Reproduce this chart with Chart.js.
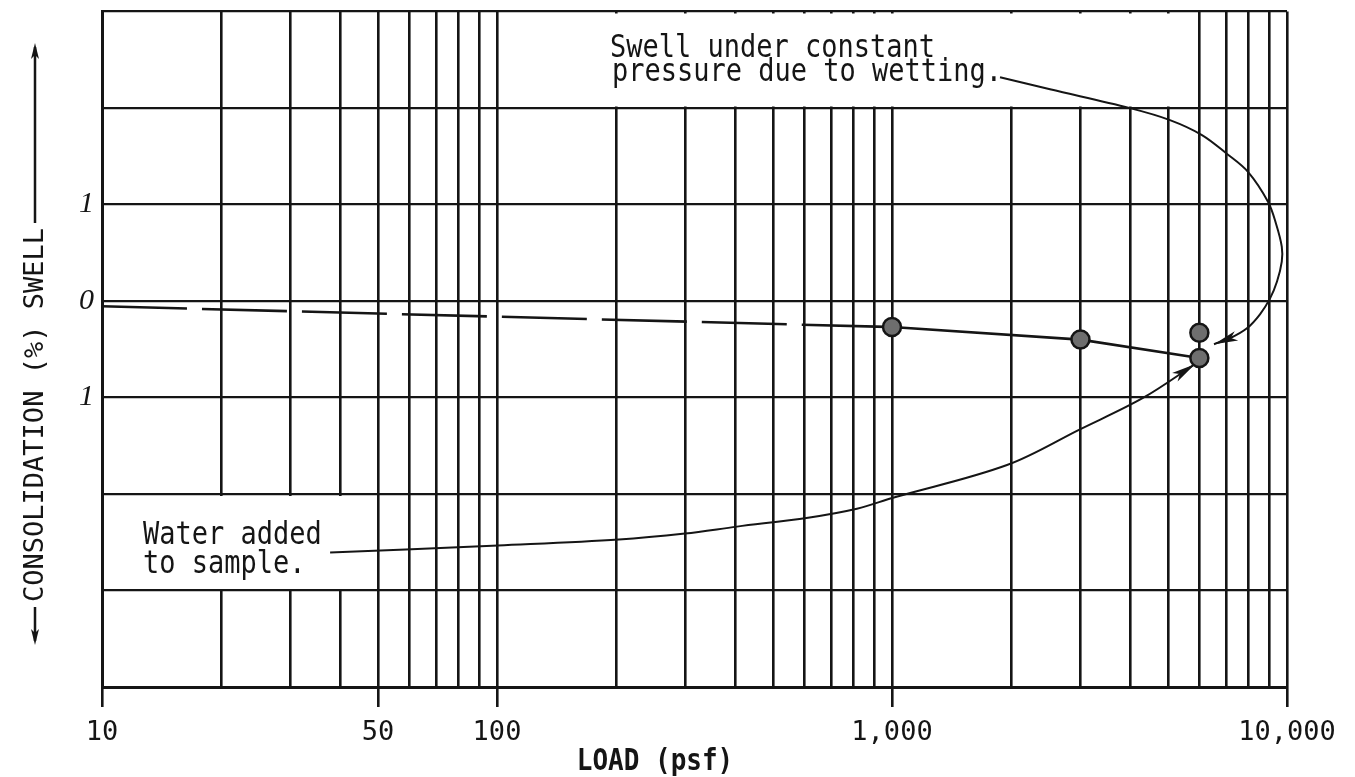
<!DOCTYPE html>
<html>
<head>
<meta charset="utf-8">
<script src="https://cdn.jsdelivr.net/npm/chart.js@4.4.1/dist/chart.umd.min.js"></script>
<style>
html,body{margin:0;padding:0;background:#fff;}
#c{display:block;}
</style>
</head>
<body>
<canvas id="c" width="1355" height="777"></canvas>
<script>
// ---- tick values / labels ----
const xTickValues = [10,20,30,40,50,60,70,80,90,100,200,300,400,500,600,700,800,900,1000,2000,3000,4000,5000,6000,7000,8000,9000,10000];
const xTickLabels = {10:'10', 50:'50', 100:'100', 1000:'1,000', 10000:'10,000'};
const yTickValues = [-4,-3,-2,-1,0,1,2,3];
const yTickLabels = {'1':'1', '0':'0', '-1':'1'};

// ---- test data (load psf, % strain: + swell / - consolidation) ----
const dashedLoad = [10, 1000];
const dashedStrain = [-0.055, -0.27];
const testLoad = [1000, 3000, 6000];
const testStrain = [-0.27, -0.40, -0.59];
const swellLoad = [6000];
const swellStrain = [-0.33];

// ---- annotation leader paths (load psf, % strain) ----
const swellNoteLoad = [1877, 2512, 4005, 5055, 6092, 7050, 7966, 8951, 9380, 9700, 9700, 9434, 9059, 8543, 7918, 7174, 6534];
const swellNoteStrain = [2.319, 2.194, 1.999, 1.875, 1.72, 1.524, 1.338, 1.028, 0.801, 0.564, 0.409, 0.202, 0.027, -0.138, -0.283, -0.386, -0.448];
const waterNoteLoad = [37.8, 58.8, 100.6, 203.6, 299, 405, 613, 815, 1006, 1955, 2991, 4319, 5848];
const waterNoteStrain = [-2.606, -2.575, -2.534, -2.472, -2.410, -2.338, -2.245, -2.152, -2.039, -1.70, -1.33, -1.005, -0.655];

const INK = '#151515';
const pts = (xs, ys) => xs.map((v, i) => ({x: v, y: ys[i]}));

function arrowHead(ctx, x, y, ang, len, half) {
  ctx.save();
  ctx.translate(x, y);
  ctx.rotate(ang);
  ctx.beginPath();
  ctx.moveTo(0, 0);
  ctx.lineTo(-len, -half);
  ctx.lineTo(-len * 0.75, 0);
  ctx.lineTo(-len, half);
  ctx.closePath();
  ctx.fill();
  ctx.restore();
}

function txt(ctx, s, x, y, font, align, sy) {
  ctx.save();
  ctx.translate(x, y);
  ctx.scale(1, sy || 1);
  ctx.font = font;
  ctx.textAlign = align || 'left';
  ctx.textBaseline = 'alphabetic';
  ctx.fillText(s, 0, 0);
  ctx.restore();
}

const paperPlugin = {
  id: 'paper',
  beforeDatasetsDraw(chart) {
    const {ctx, scales: {x, y}} = chart;
    ctx.save();
    ctx.fillStyle = '#fff';
    const box = (x0, x1, y0, y1) => {
      const l = x.getPixelForValue(x0) + 2, r = x.getPixelForValue(x1) - 2;
      const t = y.getPixelForValue(y0) + 2, b = y.getPixelForValue(y1) - 1.5;
      ctx.fillRect(l, t, r - l, b - t);
    };
    box(100, 6000, 3, 2);
    box(10, 50, -2, -3);
    ctx.restore();
  },
  afterDatasetsDraw(chart) {
    const ctx = chart.ctx;
    ctx.save();
    ctx.fillStyle = INK;
    chart.data.datasets.forEach((ds, i) => {
      if (!ds.arrow) return;
      const d = chart.getDatasetMeta(i).data;
      const p = d[d.length - 1];
      const q = d[d.length - 2];
      const a = Math.atan2(p.y - q.y, p.x - q.x);
      arrowHead(ctx, p.x, p.y, a, 24, 5);
    });
    ctx.restore();
  },
  afterDraw(chart) {
    const ctx = chart.ctx;
    ctx.save();
    ctx.fillStyle = INK;
    ctx.strokeStyle = INK;
    const f = '27px "DejaVu Sans Mono"';
    txt(ctx, 'Swell under constant', 610, 57, f, 'left', 1.15);
    txt(ctx, 'pressure due to wetting.', 612, 81, f, 'left', 1.15);
    txt(ctx, 'Water added', 143, 544, f, 'left', 1.15);
    txt(ctx, 'to sample.', 143, 573, f, 'left', 1.15);
    txt(ctx, 'LOAD (psf)', 655, 770, 'bold 26px "DejaVu Sans Mono"', 'center', 1.15);

    // vertical axis title with arrows
    ctx.save();
    ctx.translate(35, 415);
    ctx.rotate(-Math.PI / 2);
    ctx.font = '27px "DejaVu Sans Mono"';
    ctx.textAlign = 'center';
    ctx.textBaseline = 'middle';
    ctx.fillText('CONSOLIDATION (%) SWELL', 0, 1);
    ctx.lineWidth = 2.5;
    ctx.beginPath();
    ctx.moveTo(192, 0); ctx.lineTo(368, 0);
    ctx.moveTo(-192, 0); ctx.lineTo(-226, 0);
    ctx.stroke();
    arrowHead(ctx, 372, 0, 0, 16, 4);
    arrowHead(ctx, -230, 0, Math.PI, 16, 4);
    ctx.restore();
    ctx.restore();
  }
};

new Chart(document.getElementById('c'), {
  type: 'line',
  data: {
    datasets: [
      {
        label: 'Swell point', data: pts(swellLoad, swellStrain), showLine: false,
        pointRadius: 9, pointBackgroundColor: '#6e6e6e', pointBorderColor: INK, pointBorderWidth: 2.5
      },
      {
        label: 'Test points', data: pts(testLoad, testStrain), borderColor: INK, borderWidth: 2.6,
        pointRadius: 9, pointBackgroundColor: '#6e6e6e', pointBorderColor: INK, pointBorderWidth: 2.5, tension: 0
      },
      {
        label: 'Before loading', data: pts(dashedLoad, dashedStrain), borderColor: INK, borderWidth: 2.6,
        borderDash: [85, 15], pointRadius: 0, tension: 0
      },
      {
        label: 'Swell note', data: pts(swellNoteLoad, swellNoteStrain), borderColor: INK, borderWidth: 2,
        pointRadius: 0, tension: 0.35, arrow: true
      },
      {
        label: 'Water note', data: pts(waterNoteLoad, waterNoteStrain), borderColor: INK, borderWidth: 2,
        pointRadius: 0, tension: 0.35, arrow: true
      }
    ]
  },
  options: {
    responsive: false,
    animation: false,
    layout: {padding: {top: 9, right: 68, left: 0, bottom: 0}},
    plugins: {legend: {display: false}, tooltip: {enabled: false}},
    scales: {
      x: {
        type: 'logarithmic', min: 10, max: 10000,
        afterBuildTicks: s => { s.ticks = xTickValues.map(v => ({value: v})); },
        afterFit: s => { s.height = 90; s.paddingLeft = 0; s.paddingRight = 0; },
        ticks: {
          autoSkip: false, maxRotation: 0, minRotation: 0, padding: 10, color: INK,
          font: {family: 'DejaVu Sans Mono', size: 27},
          callback: v => xTickLabels[v] || ''
        },
        grid: {
          color: INK, lineWidth: 2.6, tickLength: 20, tickWidth: 2.6,
          tickColor: c => (c.tick && xTickLabels[c.tick.value]) ? INK : 'rgba(0,0,0,0)'
        },
        border: {color: INK, width: 3}
      },
      y: {
        min: -4, max: 3,
        afterBuildTicks: s => { s.ticks = yTickValues.map(v => ({value: v})); },
        afterFit: s => { s.width = 102; s.paddingTop = 0; s.paddingBottom = 0; },
        ticks: {
          padding: 8, color: INK,
          font: {family: 'Liberation Serif', style: 'italic', size: 30},
          callback: v => yTickLabels[String(v)] || ''
        },
        grid: {color: INK, lineWidth: 2.2, drawTicks: false},
        border: {color: INK, width: 3}
      }
    }
  },
  plugins: [paperPlugin]
});
</script>
</body>
</html>
